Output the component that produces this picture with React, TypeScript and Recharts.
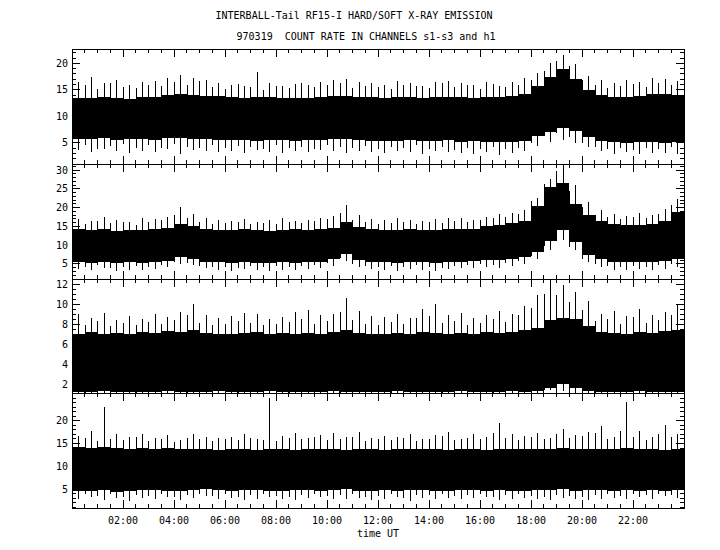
import React from "react";
import { ComposedChart, Area, Bar, XAxis, YAxis, ReferenceArea } from "recharts";

// half-hour bins, 00:00 .. 23:30 UT (48 per channel)
// core = dense band of the trace, peak / peak2 = extreme spikes inside the bin
const S1_CORE_HI = [13.5,13.4,13.6,13.5,13.3,13.6, 13.7,14.0,14.2,14.1,13.9,13.8, 13.6,13.5,13.7,13.6,13.4,13.5, 13.5,13.6,13.8,13.9,13.7,13.6, 13.5,13.6,13.7,13.5,13.6,13.7, 13.6,13.5,13.6,13.7,13.8,14.2, 15.8,17.5,19.0,17.0,15.0,14.0, 13.6,13.6,13.9,14.2,14.3,14.0];
const S1_CORE_LO = [5.8,5.7,5.9,5.6,5.8,5.7, 5.6,5.9,6.0,5.8,5.7,5.6, 5.5,5.6,5.4,5.6,5.5,5.4, 5.5,5.6,5.7,5.8,5.6,5.4, 5.3,5.4,5.5,5.3,5.4,5.5, 5.2,5.3,5.1,5.2,5.1,5.4, 6.2,7.0,7.8,7.2,6.1,5.4, 5.1,5.0,5.2,5.1,5.0,5.2];
const S1_PEAK_HI = [16.5,17.5,16.2,16.8,15.9,16.4, 16.6,17.3,17.8,17.2,16.9,16.3, 16.0,15.8,18.3,16.2,15.7,16.1, 15.9,16.4,16.8,17.0,16.5,16.2, 16.0,16.6,16.3,15.8,16.4,16.7, 16.2,15.9,16.5,15.8,16.4,17.3, 18.2,20.0,21.6,19.8,17.6,16.8, 16.2,16.9,16.4,17.2,17.0,16.6];
const S1_PEAK_LO = [3.6,3.2,3.8,3.4,3.1,3.5, 3.3,3.9,2.9,3.6,3.4,3.2, 3.5,3.1,3.6,3.3,3.0,3.4, 3.2,3.7,3.5,3.1,3.4,3.3, 3.0,3.5,3.2,2.8,3.4,3.3, 3.1,2.9,3.3,2.7,3.0,3.4, 4.4,5.1,5.6,5.0,4.2,3.4, 2.9,3.2,2.8,3.1,3.0,2.9];
const S1_PEAK2_HI = [15.4,15.9,15.1,16.2,15.6,15.3, 16.0,15.7,16.4,15.9,16.6,15.5, 15.2,16.1,15.6,15.0,15.8,15.4, 16.3,15.5,15.9,16.2,15.4,15.8, 15.6,15.1,16.0,15.7,15.3,16.2, 15.5,15.9,15.2,16.1,15.6,16.0, 16.8,18.6,20.4,19.5,16.9,16.0, 15.4,15.8,16.1,15.6,16.3,15.9];
const S1_PEAK2_LO = [4.2,4.6,3.9,4.4,4.8,4.1, 4.5,4.0,4.7,4.3,4.1,4.6, 4.0,4.4,4.2,3.8,4.5,4.1, 4.3,3.9,4.6,4.2,4.0,4.4, 3.9,4.3,4.1,4.5,3.8,4.2, 3.7,4.1,3.9,4.3,3.8,4.0, 5.0,6.2,6.8,6.1,5.0,4.2, 3.8,4.1,3.7,4.0,3.9,4.2];

const S2_CORE_HI = [14.2,14.0,14.3,13.9,14.1,14.0, 14.2,14.6,15.6,15.2,14.4,14.1, 14.0,14.2,14.1,13.9,14.0,14.2, 14.1,14.3,14.6,16.2,14.8,14.2, 14.0,14.1,14.2,14.0,14.1,14.3, 14.2,14.4,15.0,15.4,15.8,16.4, 20.5,25.5,26.5,21.0,18.0,16.5, 15.6,15.4,15.3,15.6,16.4,18.8];
const S2_CORE_LO = [5.4,5.3,5.5,5.2,5.4,5.3, 5.5,5.9,6.8,6.3,5.6,5.4, 5.3,5.4,5.2,5.3,5.4,5.3, 5.4,5.6,6.2,7.6,6.0,5.5, 5.4,5.3,5.5,5.4,5.3,5.5, 5.6,5.8,6.0,6.1,6.3,6.8, 8.2,11.0,14.0,10.8,7.4,6.2, 5.6,5.5,5.4,5.6,5.8,6.2];
const S2_PEAK_HI = [17.0,16.4,17.5,16.8,16.2,17.1, 16.9,17.6,20.1,18.4,17.2,16.6, 16.5,17.0,16.3,16.8,17.2,16.4, 16.7,17.1,17.8,20.7,18.0,16.9, 16.6,17.2,16.8,16.4,17.0,17.3, 17.1,16.8,17.6,18.2,18.5,19.4, 22.6,27.5,31.3,26.0,21.5,19.3, 18.4,17.8,18.6,18.1,19.6,22.2];
const S2_PEAK_LO = [3.6,3.3,3.9,3.1,3.5,3.4, 3.7,4.2,5.0,4.6,3.8,3.5, 3.2,3.6,3.4,3.0,3.5,3.3, 3.6,3.9,4.5,5.8,4.3,3.6, 3.4,3.2,3.7,3.3,3.1,3.6, 3.8,3.9,4.2,4.0,4.4,4.9, 6.2,8.8,11.4,8.6,5.4,4.1, 3.5,3.3,3.6,3.4,3.7,4.1];
const S2_PEAK2_HI = [16.0,15.6,16.4,15.8,16.3,15.5, 16.1,16.8,18.0,17.1,16.2,15.7, 15.9,16.3,15.6,16.0,15.7,16.2, 15.8,16.4,16.9,18.6,16.7,16.1, 15.7,16.0,16.3,15.6,16.2,15.9, 16.4,16.1,16.8,17.3,17.6,18.4, 21.8,26.3,29.8,24.5,20.2,18.1, 17.4,17.0,17.5,17.2,18.3,20.6];
const S2_PEAK2_LO = [4.4,4.1,4.6,4.0,4.3,4.5, 4.2,4.8,5.6,5.2,4.5,4.2, 4.3,4.0,4.5,4.1,4.4,4.2, 4.5,4.6,5.2,6.6,5.0,4.4, 4.1,4.4,4.2,4.6,4.3,4.0, 4.5,4.7,5.0,4.8,5.2,5.7, 7.1,9.8,12.6,9.6,6.3,5.0, 4.4,4.2,4.5,4.3,4.6,5.0];

const S3_CORE_HI = [7.0,7.2,7.0,7.1,7.0,7.2, 7.1,7.3,7.2,7.4,7.1,7.0, 7.0,7.1,7.2,7.0,7.1,7.0, 7.1,7.0,7.2,7.4,7.1,7.0, 7.0,7.1,7.0,7.2,7.1,7.0, 7.1,7.0,7.2,7.1,7.2,7.4, 7.6,8.4,8.6,8.5,7.8,7.2, 7.1,7.0,7.2,7.1,7.3,7.4];
const S3_CORE_LO = [1.2,1.2,1.3,1.2,1.2,1.2, 1.2,1.3,1.2,1.2,1.2,1.3, 1.2,1.2,1.2,1.3,1.2,1.2, 1.2,1.2,1.3,1.2,1.2,1.2, 1.2,1.3,1.2,1.2,1.2,1.2, 1.3,1.2,1.2,1.2,1.3,1.2, 1.3,1.6,2.0,1.6,1.3,1.2, 1.2,1.2,1.3,1.2,1.2,1.2];
const S3_PEAK_HI = [9.0,8.6,9.1,8.4,8.8,8.5, 9.0,8.7,9.2,10.0,8.9,8.6, 8.8,9.1,9.0,8.5,8.7,9.2, 9.4,8.9,9.0,10.6,9.3,8.8, 8.7,9.0,8.6,9.5,10.0,8.9, 9.1,8.6,8.9,9.3,9.0,9.8, 10.9,12.4,11.9,11.2,10.3,9.0, 9.3,8.8,9.5,8.9,9.2,10.0];
const S3_PEAK_LO = [1.1,1.1,1.1,1.1,1.1,1.1, 1.1,1.1,1.1,1.1,1.1,1.1, 1.1,1.1,1.1,1.1,1.1,1.1, 1.1,1.1,1.1,1.1,1.1,1.1, 1.1,1.1,1.1,1.1,1.1,1.1, 1.1,1.1,1.1,1.1,1.1,1.1, 1.1,1.4,1.3,1.1,1.1,1.1, 1.1,1.1,1.1,1.1,1.1,1.1];
const S3_PEAK2_HI = [8.0,7.9,8.3,7.8,8.1,7.9, 8.2,8.0,8.4,8.9,8.1,7.9, 8.0,8.3,8.1,7.9,8.0,8.2, 8.5,8.0,8.3,9.2,8.4,8.0, 7.9,8.2,8.0,8.6,8.8,8.1, 8.3,7.9,8.1,8.5,8.2,8.9, 9.6,11.0,10.9,10.2,9.4,8.3, 8.5,8.0,8.7,8.1,8.4,8.9];
const S3_PEAK2_LO = S3_PEAK_LO;

const H1_CORE_HI = [14.2,14.0,14.3,14.1,13.9,14.0, 13.8,14.0,13.7,13.9,13.8,13.6, 13.7,13.8,13.6,13.9,13.7,13.6, 13.8,13.7,13.9,13.6,13.7,13.8, 13.6,13.7,13.8,13.7,13.9,13.6, 13.7,13.8,13.6,13.9,13.8,13.7, 13.9,13.8,14.0,13.7,13.8,13.9, 13.7,14.0,13.8,13.9,13.6,13.8];
const H1_CORE_LO = [4.6,4.5,4.7,4.4,4.6,4.8, 4.7,4.5,4.6,4.8,4.9,4.7, 4.6,4.8,4.7,4.5,4.6,4.7, 4.8,4.6,4.7,4.9,4.6,4.5, 4.7,4.6,4.8,4.7,4.5,4.6, 4.7,4.8,4.6,4.7,4.5,4.6, 4.8,4.7,4.9,4.6,4.7,4.8, 4.6,4.7,4.5,4.8,4.6,4.7];
const H1_PEAK_HI = [16.6,17.8,23.1,17.0,16.4,17.2, 16.3,16.9,15.8,17.1,16.5,16.2, 16.4,17.0,16.1,25.0,16.6,17.4, 16.2,16.8,17.3,16.5,17.6,16.3, 16.7,16.4,17.2,16.0,16.9,17.5, 16.1,17.0,16.4,19.5,17.1,16.6, 17.4,16.3,18.2,16.8,17.6,18.9, 16.5,24.2,17.8,16.4,19.0,17.2];
const H1_PEAK_LO = [2.9,3.3,2.6,3.1,2.4,3.0, 2.8,3.2,2.5,3.0,3.4,2.7, 3.1,2.6,2.9,3.3,2.8,2.5, 3.0,3.2,2.7,2.9,3.1,2.6, 2.8,3.3,2.4,3.0,2.9,3.1, 2.7,3.0,3.2,2.6,2.9,3.1, 2.8,2.6,3.0,2.7,2.5,2.9, 3.1,2.8,3.3,2.9,3.4,3.0];
const H1_PEAK2_HI = [15.8,16.3,15.5,16.0,15.7,16.4, 15.6,16.1,15.4,16.2,15.9,15.5, 16.0,15.7,16.3,15.8,15.6,16.2, 15.9,16.5,15.7,16.0,16.4,15.6, 16.1,15.8,16.3,15.5,16.0,16.6, 15.7,16.2,15.9,17.4,16.3,15.8, 16.5,15.9,17.0,16.2,16.6,17.3, 15.9,17.8,16.5,15.8,17.2,16.4];
const H1_PEAK2_LO = [3.6,3.9,3.4,3.8,3.3,3.7, 3.5,3.9,3.2,3.7,4.0,3.4, 3.8,3.3,3.6,3.9,3.5,3.2, 3.7,3.9,3.4,3.6,3.8,3.3, 3.5,3.9,3.1,3.7,3.6,3.8, 3.4,3.7,3.9,3.3,3.6,3.8, 3.5,3.3,3.7,3.4,3.2,3.6, 3.8,3.5,3.9,3.6,4.0,3.7];

const S1_TICKS = [5, 10, 15, 20];
const S2_TICKS = [5, 10, 15, 20, 25, 30];
const S3_TICKS = [2, 4, 6, 8, 10, 12];
const H1_TICKS = [5, 10, 15, 20];

const HOUR_TICKS = [2, 4, 6, 8, 10, 12, 14, 16, 18, 20, 22];
const HOUR_LABELS = ["02:00", "04:00", "06:00", "08:00", "10:00", "12:00", "14:00", "16:00", "18:00", "20:00", "22:00"];

const FONT = "'DejaVu Sans Mono', monospace";
const PL = 72;
const PR = 684;
const PAD = 4;

type PanelCfg = {
  top: number;
  bottom: number;
  domain: [number, number];
  majors: number[];
  minorStep: number;
  coreHi: number[];
  coreLo: number[];
  peakHi: number[];
  peakLo: number[];
  peak2Hi: number[];
  peak2Lo: number[];
};

const PANELS: PanelCfg[] = [
  { top: 49, bottom: 164, domain: [1.0, 22.7], majors: S1_TICKS, minorStep: 1, coreHi: S1_CORE_HI, coreLo: S1_CORE_LO, peakHi: S1_PEAK_HI, peakLo: S1_PEAK_LO, peak2Hi: S1_PEAK2_HI, peak2Lo: S1_PEAK2_LO },
  { top: 164, bottom: 279, domain: [1.0, 31.6], majors: S2_TICKS, minorStep: 1, coreHi: S2_CORE_HI, coreLo: S2_CORE_LO, peakHi: S2_PEAK_HI, peakLo: S2_PEAK_LO, peak2Hi: S2_PEAK2_HI, peak2Lo: S2_PEAK2_LO },
  { top: 279, bottom: 393, domain: [1.13, 12.53], majors: S3_TICKS, minorStep: 0.5, coreHi: S3_CORE_HI, coreLo: S3_CORE_LO, peakHi: S3_PEAK_HI, peakLo: S3_PEAK_LO, peak2Hi: S3_PEAK2_HI, peak2Lo: S3_PEAK2_LO },
  { top: 393, bottom: 508, domain: [0.83, 26.1], majors: H1_TICKS, minorStep: 1, coreHi: H1_CORE_HI, coreLo: H1_CORE_LO, peakHi: H1_PEAK_HI, peakLo: H1_PEAK_LO, peak2Hi: H1_PEAK2_HI, peak2Lo: H1_PEAK2_LO },
];

const X_TICKS: number[] = [];
for (let i = 1; i < 48; i++) X_TICKS.push(i * 0.5);

// two rows per bin: bin start carries peak2, bin middle carries peak; core holds for the whole bin
function buildRows(p: PanelCfg) {
  const n = p.coreHi.length;
  const rows: any[] = [];
  for (let i = 0; i < n; i++) {
    const core = [p.coreLo[i], p.coreHi[i]];
    rows.push({ t: i * 0.5, core, peak: i === 0 ? null : [p.peak2Lo[i], p.peak2Hi[i]] });
    rows.push({ t: i * 0.5 + 0.25, core, peak: [p.peakLo[i], p.peakHi[i]] });
  }
  rows.push({ t: 24, core: [p.coreLo[n - 1], p.coreHi[n - 1]], peak: null });
  return rows;
}

function yTickList(p: PanelCfg) {
  const out: number[] = [];
  const start = Math.ceil(p.domain[0] / p.minorStep) * p.minorStep;
  for (let v = start; v <= p.domain[1] + 1e-9; v += p.minorStep) out.push(Math.round(v * 100) / 100);
  return out;
}

function Panel({ p, last }: { p: PanelCfg; last: boolean }) {
  const h = p.bottom - p.top;
  const extra = last ? 40 : 0;
  const plotTop = PAD;
  const plotBottom = PAD + h;
  const rows = buildRows(p);

  const renderYTick = (props: any) => {
    const { y, payload } = props;
    const v = payload.value;
    const isMajor = p.majors.includes(v);
    const len = isMajor ? 8 : 4;
    return (
      <g>
        <line x1={PL} x2={PL + len} y1={y} y2={y} stroke="#000" />
        <line x1={PR - len} x2={PR} y1={y} y2={y} stroke="#000" />
        {isMajor && (
          <text x={PL - 4} y={y} textAnchor="end" dominantBaseline="central" fontFamily={FONT} fontSize={10} fill="#000">
            {v}
          </text>
        )}
      </g>
    );
  };

  const renderXTick = (props: any) => {
    const { x, payload } = props;
    const v = payload.value;
    const idx = HOUR_TICKS.indexOf(v);
    const len = idx >= 0 ? 8 : 4;
    return (
      <g>
        <line x1={x} x2={x} y1={plotBottom - len} y2={plotBottom} stroke="#000" />
        <line x1={x} x2={x} y1={plotTop} y2={plotTop + len} stroke="#000" />
        {last && idx >= 0 && (
          <text x={x} y={plotBottom + 12} textAnchor="middle" dominantBaseline="central" fontFamily={FONT} fontSize={10} fill="#000">
            {HOUR_LABELS[idx]}
          </text>
        )}
      </g>
    );
  };

  return (
    <div style={{ position: "absolute", left: 0, top: p.top - PAD }}>
      <ComposedChart
        width={720}
        height={h + PAD * 2 + extra}
        data={rows}
        margin={{ top: PAD, right: 720 - PR, bottom: PAD + extra - 1, left: 0 }}
      >
        <XAxis
          dataKey="t"
          type="number"
          domain={[0, 24]}
          ticks={X_TICKS}
          interval={0}
          height={1}
          axisLine={false}
          tickLine={false}
          tick={renderXTick}
          allowDataOverflow
        />
        <YAxis
          type="number"
          domain={p.domain}
          ticks={yTickList(p)}
          interval={0}
          width={PL}
          axisLine={false}
          tickLine={false}
          tick={renderYTick}
          allowDataOverflow
        />
        <Area
          dataKey="core"
          type="stepAfter"
          stroke="none"
          fill="#000"
          fillOpacity={1}
          isAnimationActive={false}
          dot={false}
          activeDot={false}
        />
        <Bar dataKey="peak" fill="#000" barSize={1} isAnimationActive={false} />
        <ReferenceArea x1={0} x2={24} y1={p.domain[0]} y2={p.domain[1]} fill="none" stroke="#000" strokeWidth={1} />
      </ComposedChart>
    </div>
  );
}

export default function App() {
  return (
    <div
      style={{
        position: "absolute",
        left: 0,
        top: 0,
        width: 720,
        height: 550,
        background: "#fff",
        shapeRendering: "crispEdges",
      }}
    >
      <svg width={720} height={550} style={{ position: "absolute", left: 0, top: 0 }}>
        <text x={354} y={15} textAnchor="middle" dominantBaseline="central" fontFamily={FONT} fontSize={10} fill="#000">
          INTERBALL-Tail RF15-I HARD/SOFT X-RAY EMISSION
        </text>
        <text x={366} y={36} textAnchor="middle" dominantBaseline="central" fontFamily={FONT} fontSize={10} fill="#000" xmlSpace="preserve">
          {"970319  COUNT RATE IN CHANNELS s1-s3 and h1"}
        </text>
        <text x={378} y={533} textAnchor="middle" dominantBaseline="central" fontFamily={FONT} fontSize={10} fill="#000">
          time UT
        </text>
      </svg>
      {PANELS.map((p, i) => (
        <Panel key={i} p={p} last={i === PANELS.length - 1} />
      ))}
    </div>
  );
}
